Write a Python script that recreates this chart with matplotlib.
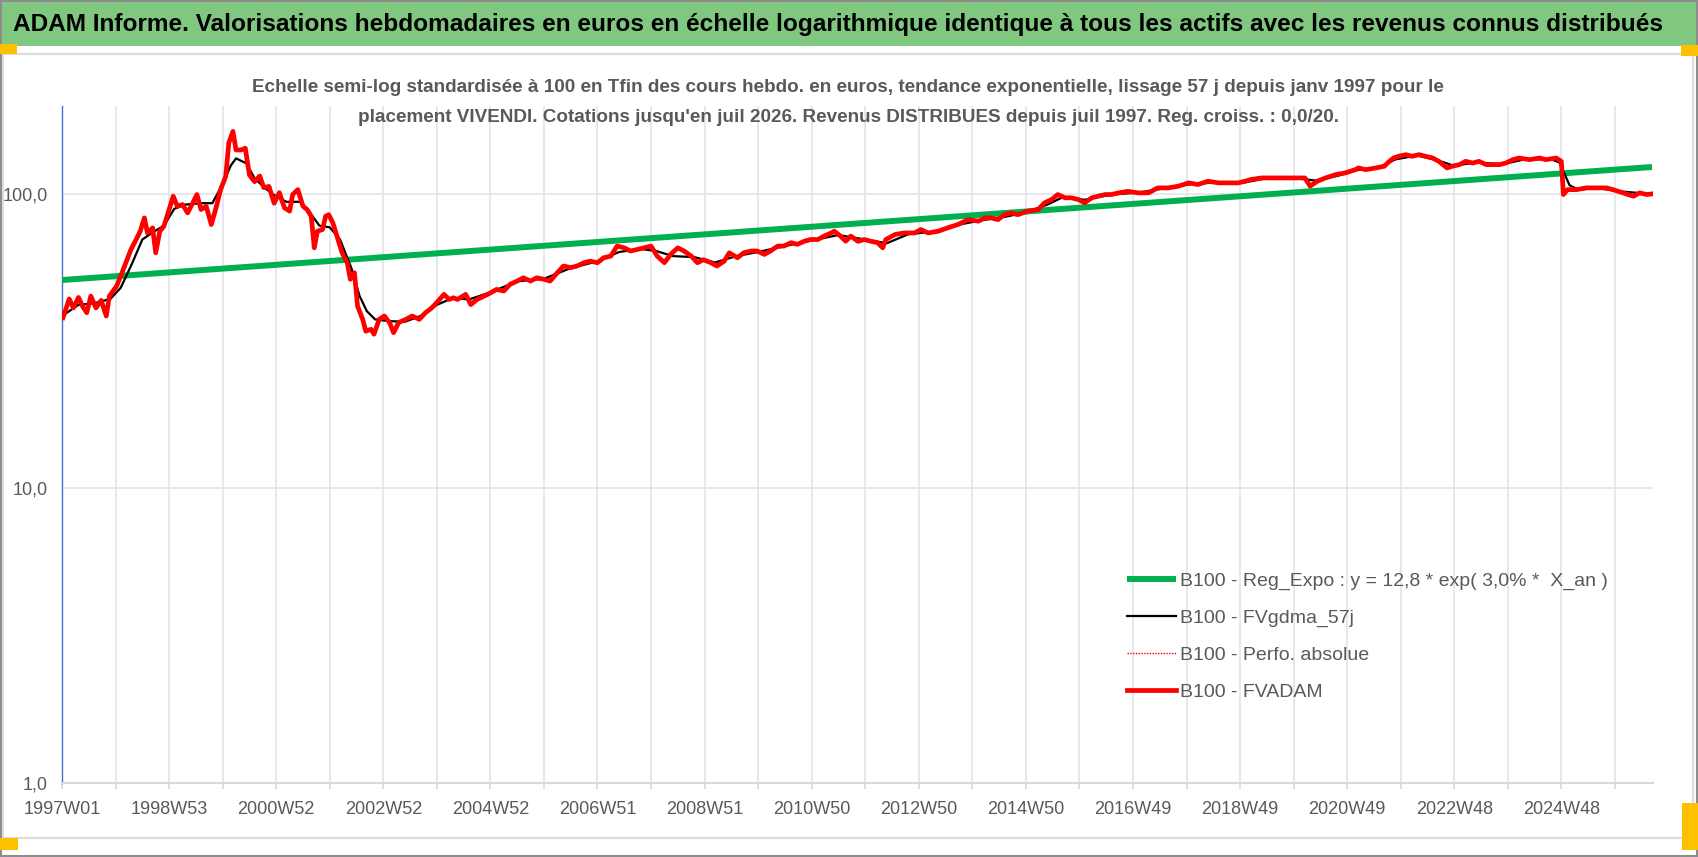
import matplotlib
matplotlib.use("Agg")
import matplotlib.pyplot as plt
import matplotlib.patches as patches
from matplotlib import font_manager

# weekly index since 1997W01, values base 100
red_weeks = [1, 7, 11, 16, 20, 24, 28, 33, 38, 43, 46, 53, 57, 62, 67, 72, 76, 80, 83, 88,
             91, 95, 99, 104, 108, 112, 117, 122, 127, 131, 135, 140, 145, 150, 154, 159,
             162, 166, 169, 174, 178, 182, 187, 192, 196, 201, 206, 211, 216, 221, 224, 229,
             234, 238, 242, 245, 248, 253, 256, 259, 263, 267, 272, 277, 280, 284, 287, 292,
             295, 300, 303, 308, 313, 318, 322, 327, 334, 340, 347, 353, 359, 364, 371, 376,
             380, 384, 392, 397, 403, 410, 416, 422, 429, 435, 442, 448, 455, 461, 468, 474,
             481, 487, 494, 500, 507, 513, 520, 526, 533, 539, 546, 552, 559, 565, 572, 578,
             585, 591, 598, 604, 611, 617, 623, 630, 636, 643, 648, 656, 662, 669, 675, 682,
             688, 695, 701, 708, 714, 721, 727, 734, 740, 747, 750, 756, 761, 766, 773, 779,
             786, 792, 797, 800, 809, 818, 828, 834, 841, 851, 860, 870, 880, 890, 896, 902,
             909, 915, 922, 928, 938, 948, 954, 961, 967, 974, 980, 987, 993, 1000, 1006, 1013,
             1019, 1026, 1035, 1045, 1055, 1064, 1074, 1084, 1094, 1103, 1113, 1123, 1133, 1142,
             1149, 1155, 1165, 1175, 1185, 1194, 1207, 1212, 1219, 1227, 1237, 1246, 1256, 1259,
             1266, 1276, 1284, 1289, 1293, 1298, 1305, 1311, 1318, 1324, 1331, 1337, 1345, 1350,
             1357, 1363, 1370, 1376, 1383, 1389, 1396, 1402, 1409, 1415, 1425, 1435, 1441, 1451,
             1456, 1458, 1462, 1471, 1480, 1490, 1500, 1506, 1516, 1526, 1532, 1539, 1544]
red_values = [38.0, 44.0, 41.0, 44.5, 41.5, 39.5, 45.0, 41.0, 43.5, 38.5, 45.0, 48.6, 52.6, 58.4,
              64.8, 70.0, 74.7, 82.9, 73.7, 76.7, 63.1, 74.7, 77.7, 88.5, 98.2, 90.8, 92.0, 86.2,
              93.2, 99.5, 88.5, 90.8, 78.7, 90.8, 103.4, 114.8, 149.0, 163.0, 141.0, 141.0, 143.0,
              116.0, 110.0, 115.0, 105.0, 106.0, 93.0, 101.0, 89.7, 87.4, 99.5, 103.4, 90.8, 88.5,
              84.0, 65.6, 74.7, 75.7, 84.0, 85.0, 79.8, 71.9, 63.1, 58.4, 51.3, 54.0, 41.6, 37.5,
              34.2, 34.7, 33.4, 37.5, 38.5, 36.6, 33.8, 36.6, 37.5, 38.5, 37.5, 39.5, 41.0, 42.8,
              45.6, 43.8, 44.4, 43.8, 45.6, 42.1, 43.8, 45.0, 46.1, 47.4, 46.8, 49.3, 50.6, 51.9,
              50.6, 51.9, 51.3, 50.6, 54.0, 56.9, 56.2, 56.9, 58.4, 59.1, 58.4, 60.7, 61.5, 66.5,
              65.6, 64.0, 64.8, 65.6, 66.5, 61.5, 58.4, 62.3, 65.6, 64.0, 61.5, 58.4, 59.8, 58.4,
              56.9, 59.1, 63.1, 60.7, 63.1, 64.0, 64.0, 62.3, 64.0, 66.5, 66.5, 68.3, 67.4, 69.1,
              70.0, 70.0, 71.9, 73.7, 74.7, 71.9, 69.1, 71.9, 69.0, 70.0, 69.0, 68.3, 65.6, 70.0,
              72.8, 73.7, 73.7, 75.7, 73.7, 74.7, 76.7, 78.7, 81.8, 80.8, 82.9, 82.9, 81.8, 85.0,
              86.2, 85.0, 87.4, 88.5, 93.2, 95.7, 99.5, 97.0, 97.0, 95.7, 93.2, 97.0, 98.2, 99.5,
              99.5, 100.8, 102.0, 100.8, 100.8, 104.8, 104.8, 106.2, 109.0, 107.6, 110.4, 109.0,
              109.0, 109.0, 110.4, 112.0, 113.3, 113.3, 113.3, 113.3, 113.3, 106.2, 110.4, 113.3,
              116.3, 117.8, 120.9, 122.5, 120.9, 122.5, 124.1, 129.0, 132.4, 134.2, 135.9, 134.2,
              135.9, 134.2, 132.4, 129.0, 122.5, 124.1, 125.7, 129.0, 127.3, 129.0, 125.7, 125.7,
              125.7, 127.3, 130.7, 132.4, 130.7, 132.4, 130.7, 132.4, 129.0, 99.5, 103.4, 103.4,
              104.8, 104.8, 104.8, 103.4, 100.8, 98.2, 100.8, 99.5, 100.0]

black_weeks = [0, 16, 31, 47, 57, 68, 78, 88, 99, 109, 120, 135, 146, 156, 164, 169, 179, 187,
               198, 208, 218, 231, 239, 250, 260, 270, 281, 289, 296, 304, 317, 333, 348, 364,
               380, 395, 416, 442, 468, 494, 520, 541, 562, 577, 593, 614, 634, 655, 676, 702,
               728, 754, 780, 801, 822, 848, 874, 894, 915, 936, 957, 972, 993, 1019, 1045, 1071,
               1097, 1123, 1149, 1170, 1196, 1217, 1238, 1258, 1279, 1295, 1316, 1336, 1352, 1373,
               1399, 1420, 1446, 1454, 1459, 1464, 1472, 1492, 1513, 1544]
black_values = [38.5, 42.0, 42.5, 44.0, 48.0, 58.0, 70.0, 74.0, 78.0, 89.0, 92.0, 93.0, 93.0,
                108.0, 125.0, 132.0, 127.0, 113.0, 104.0, 98.0, 94.0, 94.0, 88.0, 78.0, 77.0,
                70.0, 56.0, 45.0, 40.0, 37.5, 37.0, 36.8, 38.5, 42.0, 44.4, 43.8, 46.3, 50.5,
                51.5, 56.0, 59.0, 63.5, 65.0, 64.0, 61.5, 61.0, 58.5, 61.5, 63.5, 66.5, 69.5,
                72.5, 70.0, 68.0, 73.0, 74.5, 79.0, 81.5, 83.5, 86.5, 92.0, 97.5, 95.5, 99.5,
                101.0, 104.5, 108.0, 109.5, 109.5, 113.0, 113.3, 111.0, 115.0, 120.5, 123.0,
                131.0, 135.0, 130.0, 124.5, 128.0, 126.0, 131.0, 131.0, 128.0, 117.0, 107.0,
                103.5, 104.5, 102.0, 99.8]

reg_weeks = [0, 1544]
reg_values = [51.0, 123.4]

tick_labels = ["1997W01", "1998W53", "2000W52", "2002W52", "2004W52", "2006W51", "2008W51",
               "2010W50", "2012W50", "2014W50", "2016W49", "2018W49", "2020W49", "2022W48",
               "2024W48"]
n_weeks = 1545

installed = {f.name for f in font_manager.fontManager.ttflist}
FONT = 'Liberation Sans Narrow' if 'Liberation Sans Narrow' in installed else 'Liberation Sans'
plt.rcParams['font.family'] = [FONT, 'DejaVu Sans']

W, H = 1698, 857
fig = plt.figure(figsize=(W / 100, H / 100), dpi=100)
fig.patch.set_facecolor('white')


def px_rect(x0, y0, x1, y1, **kw):
    # rectangle given in pixel coords from the top-left corner
    r = patches.Rectangle((x0 / W, 1 - y1 / H), (x1 - x0) / W, (y1 - y0) / H,
                          transform=fig.transFigure, **kw)
    fig.add_artist(r)


# outer frame, green header band, inner chart border and the orange corner marks
px_rect(1, 1, W - 1, H - 1, fill=False, edgecolor='#8c8c8c', lw=1.5)
px_rect(2, 2, W - 2, 46, facecolor='#80c780', edgecolor='none')
px_rect(3, 54, 1693, 838, fill=False, edgecolor='#dcdcdc', lw=1.5)
orange = '#ffc000'
px_rect(0, 44, 17, 54, facecolor=orange, edgecolor='none')
px_rect(1681, 45, 1698, 56, facecolor=orange, edgecolor='none')
px_rect(0, 838, 18, 850, facecolor=orange, edgecolor='none')
px_rect(1682, 803, 1698, 850, facecolor=orange, edgecolor='none')

fig.text(13 / W, 1 - 25 / H,
         "ADAM Informe. Valorisations hebdomadaires en euros en échelle logarithmique identique "
         "à tous les actifs avec les revenus connus distribués",
         ha='left', va='center', fontsize=17.6, fontweight='bold', color='black')

fig.text(848 / W, 1 - 87 / H,
         "Echelle semi-log standardisée à 100 en Tfin des cours hebdo. en euros, tendance "
         "exponentielle, lissage 57 j depuis janv 1997 pour le",
         ha='center', va='center', fontsize=13.6, fontweight='bold', color='#595959')
fig.text(848 / W, 1 - 117 / H,
         "placement VIVENDI. Cotations jusqu'en juil 2026. Revenus DISTRIBUES depuis juil 1997. "
         "Reg. croiss. : 0,0/20.",
         ha='center', va='center', fontsize=13.6, fontweight='bold', color='#595959')

ax = fig.add_axes([62 / W, 1 - 783 / H, (1653 - 62) / W, (783 - 106) / H])
ax.set_facecolor('none')

ax.plot(reg_weeks, reg_values, color='#00b050', lw=4.3, solid_capstyle='butt',
        label="B100 - Reg_Expo : y = 12,8 * exp( 3,0% *  X_an )", zorder=3)
ax.plot(black_weeks, black_values, color='black', lw=1.6,
        label="B100 - FVgdma_57j", zorder=4)
ax.plot(red_weeks, red_values, color='#ff0000', lw=1.0, ls=(0, (1, 1)),
        label="B100 - Perfo. absolue", zorder=4)
ax.plot(red_weeks, red_values, color='#ff0000', lw=3.4,
        label="B100 - FVADAM", zorder=5)

ax.set_yscale('log')
ax.set_ylim(1, 198.8)
ax.set_xlim(0, n_weeks)

ax.set_yticks([1, 10, 100])
ax.set_yticklabels(["1,0", "10,0", "100,0"])
ax.yaxis.set_minor_locator(matplotlib.ticker.NullLocator())

grid_pos = list(range(0, n_weeks, 52))
ax.set_xticks(grid_pos)
ax.set_xticklabels([tick_labels[i // 2] if i % 2 == 0 else '' for i in range(len(grid_pos))])

ax.grid(True, which='major', color='#e1e4ea', lw=1.2, zorder=0)
ax.set_axisbelow(True)

for s in ['top', 'right']:
    ax.spines[s].set_visible(False)
ax.spines['left'].set_color('#4472c4')
ax.spines['left'].set_linewidth(1.0)
ax.spines['bottom'].set_color('#d9d9d9')
ax.spines['bottom'].set_linewidth(1.5)

ax.tick_params(axis='x', direction='out', length=4, width=1.2, color='#d9d9d9',
               labelsize=13, labelcolor='#595959', pad=9)
ax.tick_params(axis='y', length=0, labelsize=13, labelcolor='#595959', pad=10)

leg = ax.legend(loc='upper left', bbox_to_anchor=(1127 / W, 1 - 572 / H),
                bbox_transform=fig.transFigure, frameon=False, fontsize=14,
                handlelength=2.5, handletextpad=0.25, labelspacing=1.0,
                borderpad=0, borderaxespad=0)
for t in leg.get_texts():
    t.set_color('#595959')

fig.savefig('out.png', dpi=100, facecolor='white')
